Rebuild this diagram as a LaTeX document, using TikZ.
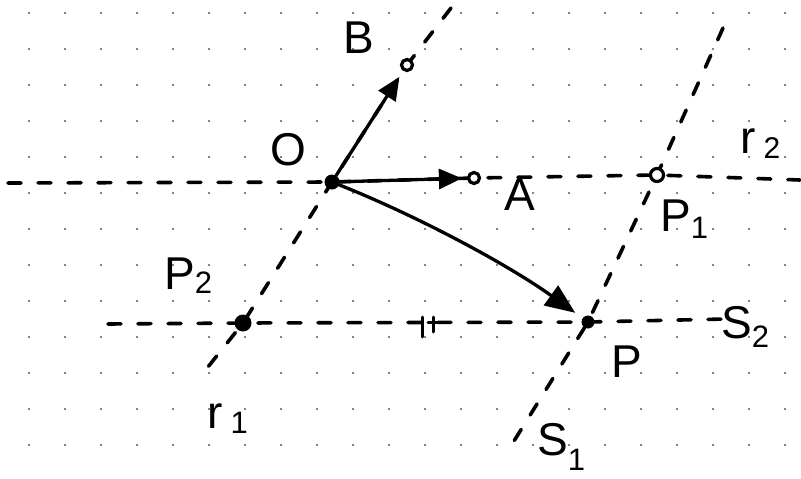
\documentclass[tikz,border=0pt]{standalone}
\usepackage{fontspec}
\setmainfont{Liberation Sans}
\usetikzlibrary{arrows.meta}
\newcommand{\lsub}[3]{\raisebox{#1}{\fontsize{#2}{#2}\selectfont #3}}
\begin{document}
\begin{tikzpicture}[x=1pt,y=-1pt,
  ink/.style={line width=3.3pt, line cap=round, line join=round},
  guide/.style={ink, line width=3.6pt, dash pattern=on 13pt off 17pt},
  vec/.style={ink, -{Triangle[length=23pt,width=20pt]}},
  bigvec/.style={ink, -{Triangle[length=30pt,width=24pt]}},
  dotpt/.style={circle, fill=black, inner sep=0pt},
  ringpt/.style={circle, draw=black, line width=3.2pt, fill=white, inner sep=0pt},
  lab/.style={inner sep=0pt, anchor=base west, font=\fontsize{46}{46}\selectfont},
  tick/.style={line width=3pt, line cap=round}]
\useasboundingbox (0,0) rectangle (801,479);
\fill[white] (0,0) rectangle (801,479);
\foreach \i in {0,...,21}{\foreach \j in {0,...,12}{\fill[black!65] (29+36*\i,13+36*\j) circle (1.1pt);}}
% point positions
\coordinate (o) at (332,182);
\coordinate (b) at (407,65);
\coordinate (a) at (474,178);
\coordinate (p1) at (657,175);
\coordinate (p2) at (243,323);
\coordinate (p) at (588,322);
% free ends of the guide lines
\coordinate (r2w) at (8,183);
\coordinate (r2e) at (800,180);
\coordinate (r1n) at (451,8);
\coordinate (r1s) at (200,377);
\coordinate (s1n) at (723,28);
\coordinate (s1s) at (514,441);
\coordinate (s2w) at (108,324);
\coordinate (s2e) at (726,319);
% dashed lines
\draw[guide] (r2w) -- (o) -- (a) -- (p1) -- (r2e);
\draw[guide] (r1n) -- (b) -- (o) -- (p2) -- (r1s);
\draw[guide] (s1n) -- (p1) -- (p) -- (s1s);
\draw[guide] (s2w) -- (p2) -- (p) -- (s2e);
% small mark on s2
\draw[tick] (422,317) -- (422,337);
\draw[tick] (433,317) -- (433,332) (428,322) -- (440,322);
% points
\node[dotpt, minimum size=15pt] (O) at (o) {};
\node[ringpt, minimum size=11pt] (B) at (b) {};
\node[ringpt, minimum size=11pt] (A) at (a) {};
\node[ringpt, minimum size=13pt] (P1) at (p1) {};
\node[dotpt, minimum size=17pt] (P2) at (p2) {};
\node[dotpt, minimum size=13pt] (P) at (p) {};
% vectors
\draw[vec, shorten >=7pt] (O) -- (B);
\draw[vec, shorten >=5pt] (O) -- (A);
\draw[bigvec, shorten >=9pt] (O) .. controls (420,217) and (510,266) .. (P);
% labels
\node[lab] (lB) at (343,53) {B};
\node[lab] (lO) at (270,165) {O};
\node[lab] (lA) at (504,210) {A};
\node[lab] (lr2) at (740,153) {r\kern8pt\lsub{-5pt}{30}{2}};
\node[lab] (lP1) at (660,231) {P\lsub{-7pt}{31}{1}};
\node[lab] (lP2) at (164,289) {P\lsub{-4pt}{31}{2}};
\node[lab] (lr1) at (207,428) {r\kern8pt\lsub{-5pt}{31}{1}};
\node[lab] (lP) at (611,377) {P};
\node[lab] (lS2) at (721,338) {S\lsub{-9pt}{31}{2}};
\node[lab] (lS1) at (537,455) {S\lsub{-15pt}{31}{1}};
\end{tikzpicture}
\end{document}
